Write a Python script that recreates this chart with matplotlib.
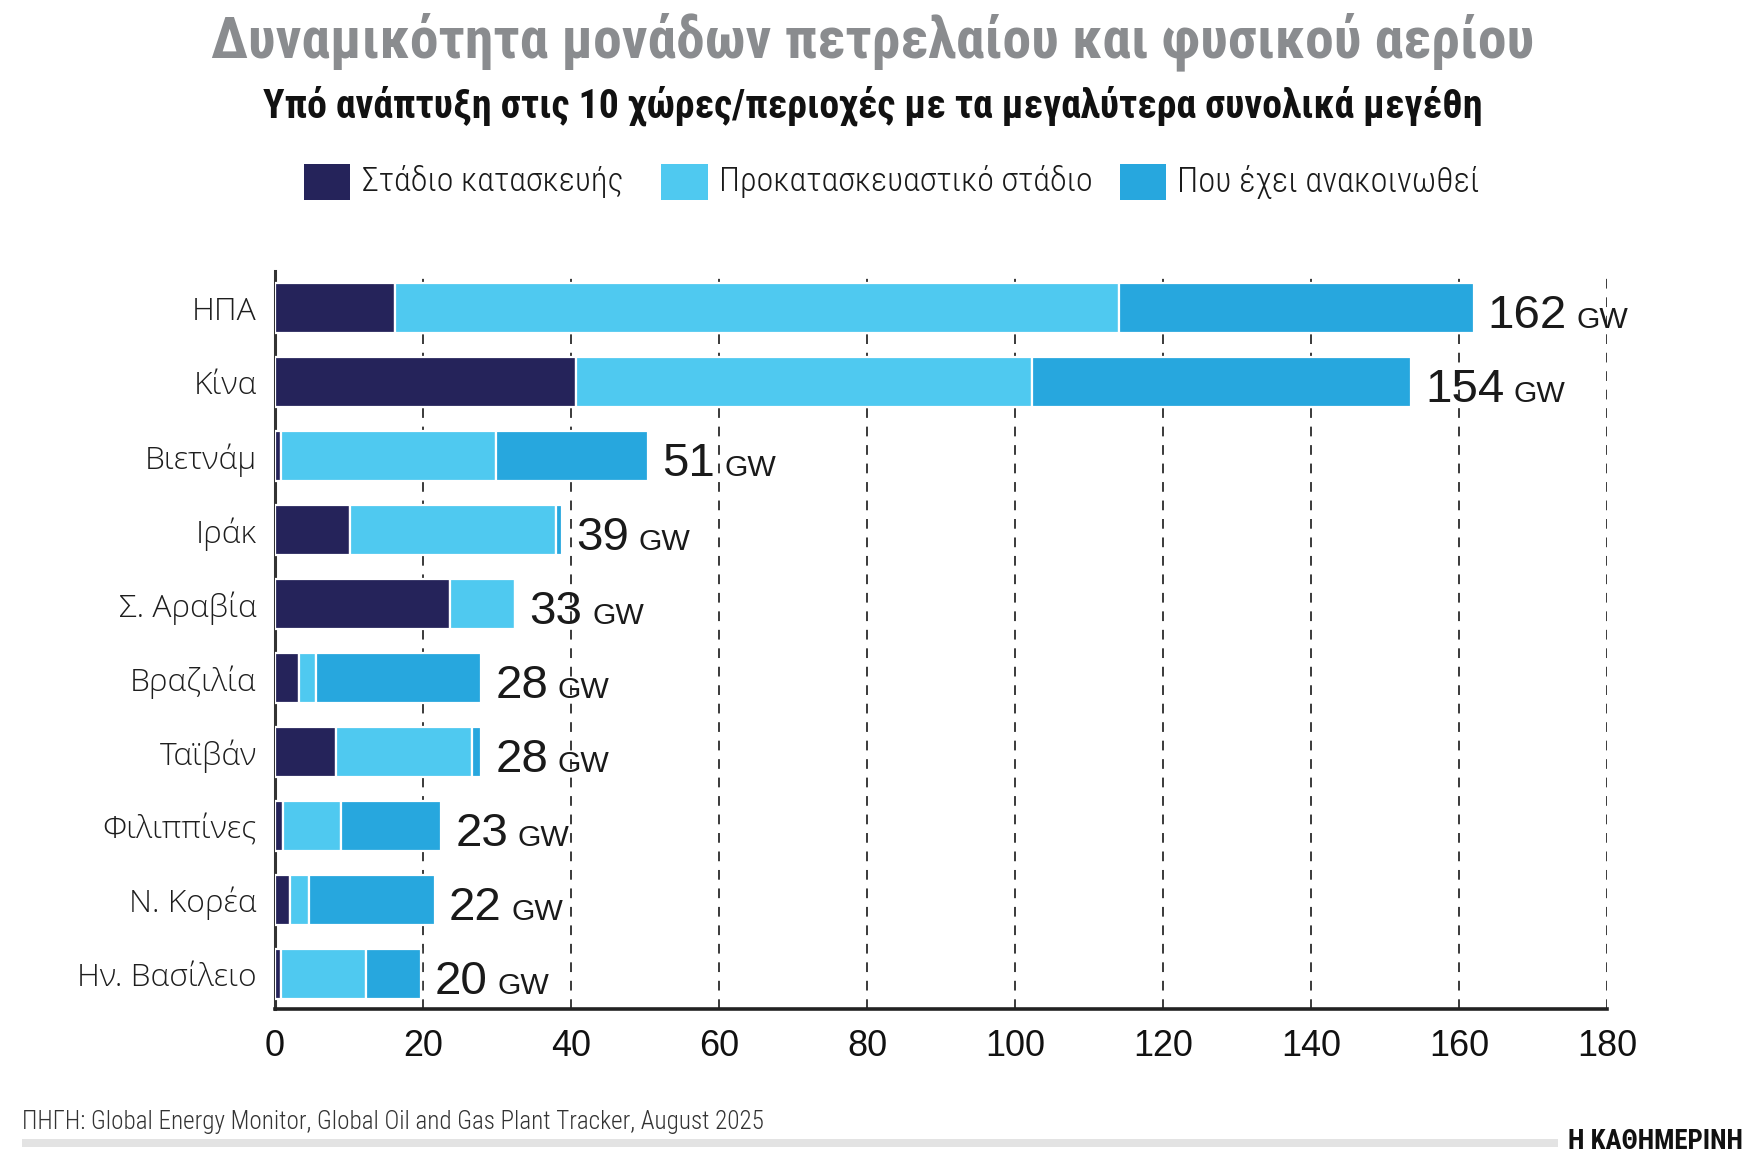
import matplotlib
matplotlib.use("Agg")
import matplotlib.pyplot as plt
from matplotlib import font_manager as fm
from matplotlib.font_manager import FontProperties
from matplotlib.patches import Rectangle
import numpy as np

# ---------------- data ----------------
categories = ['ΗΠΑ', 'Κίνα', 'Βιετνάμ', 'Ιράκ', 'Σ. Αραβία', 'Βραζιλία',
              'Ταϊβάν', 'Φιλιππίνες', 'Ν. Κορέα', 'Ην. Βασίλειο']
construction = [16.2, 40.7, 0.8, 10.2, 23.6, 3.2, 8.2, 1.1, 2.0, 0.8]
pre_construction = [97.9, 61.6, 29.1, 27.8, 8.9, 2.3, 18.5, 7.9, 2.6, 11.5]
announced = [47.9, 51.2, 20.5, 0.8, 0.0, 22.4, 1.2, 13.5, 17.0, 7.4]
total_labels = [162, 154, 51, 39, 33, 28, 28, 23, 22, 20]
series_names = ['Στάδιο κατασκευής', 'Προκατασκευαστικό στάδιο', 'Που έχει ανακοινωθεί']
x_ticks = [0, 20, 40, 60, 80, 100, 120, 140, 160, 180]

title = 'Δυναμικότητα μονάδων πετρελαίου και φυσικού αερίου'
subtitle = 'Υπό ανάπτυξη στις 10 χώρες/περιοχές με τα μεγαλύτερα συνολικά μεγέθη'
source = 'ΠΗΓΗ: Global Energy Monitor, Global Oil and Gas Plant Tracker, August 2025'
brand = 'Η ΚΑΘΗΜΕΡΙΝΗ'

colors = ['#25235A', '#4FC9F0', '#27A7DE']


# ---------------- fonts ----------------
def _w(f):
    w = f.weight
    if isinstance(w, (int, float)):
        return int(w)
    return {'normal': 400, 'regular': 400, 'bold': 700, 'light': 300,
            'medium': 500, 'semibold': 600}.get(str(w).lower(), 400)


def find_condensed(wmin, wmax, prefer):
    cands = []
    for f in fm.fontManager.ttflist:
        cond = ('condensed' in str(f.stretch)) or ('Narrow' in f.name) or ('Condensed' in f.name)
        if not cond or f.style != 'normal':
            continue
        w = _w(f)
        if wmin <= w <= wmax:
            cands.append(f)
    if not cands:
        return None
    def key(f):
        for i, p in enumerate(prefer):
            if p in f.name:
                return (i, abs(_w(f) - (wmin + wmax) / 2))
        return (len(prefer), abs(_w(f) - (wmin + wmax) / 2))
    cands.sort(key=key)
    return FontProperties(fname=cands[0].fname)


def find_family(families, target_w):
    for fam in families:
        cands = [f for f in fm.fontManager.ttflist
                 if f.name == fam and f.style == 'normal' and str(f.stretch) == 'normal']
        if cands:
            cands.sort(key=lambda f: abs(_w(f) - target_w))
            return FontProperties(fname=cands[0].fname)
    return FontProperties(family='DejaVu Sans')


prefer = ['Roboto Condensed', 'Open Sans Condensed', 'DejaVu Sans', 'Liberation Sans Narrow', 'Noto Sans']
fp_bold = find_condensed(600, 900, prefer) or FontProperties(family='DejaVu Sans', weight='bold')
fp_reg = find_condensed(300, 450, prefer) or FontProperties(family='DejaVu Sans')
fp_light = find_condensed(200, 400, prefer) or fp_reg
fp_num = find_family(['Liberation Sans', 'Arial', 'Inter'], 400)
fp_cat = find_family(['Open Sans', 'Lato', 'Noto Sans', 'DejaVu Sans'], 300)

W, H = 1745, 1166
fig = plt.figure(figsize=(W / 100, H / 100), dpi=100)
fig.patch.set_facecolor('white')
renderer = fig.canvas.get_renderer()


def fit(t, width_px, size0=20):
    t.set_fontsize(size0)
    w = t.get_window_extent(renderer).width
    t.set_fontsize(size0 * width_px / w)
    return t


def fitted_size(text, fp, width_px):
    p = fig.text(0, 0, text, fontproperties=fp)
    fit(p, width_px)
    s = p.get_fontsize()
    p.remove()
    return s


# ---------------- axes ----------------
ax = fig.add_axes([0.1575, 0.1345, 0.921 - 0.1575, 0.768 - 0.1345])
y = np.arange(len(categories))
left = np.zeros(len(categories))
for vals, c, name in zip([construction, pre_construction, announced], colors, series_names):
    ax.barh(y, vals, left=left, height=0.68, color=c, edgecolor='white',
            linewidth=1.6, label=name, zorder=3)
    left = left + np.array(vals)

ax.set_xlim(0, 180)
ax.set_ylim(9.48, -0.51)
ax.set_xticks(x_ticks)
ax.set_yticks(y)
ax.set_yticklabels(categories)
ax.xaxis.grid(True, linestyle=(0, (5, 4.5)), color='#3a3a3a', linewidth=1.4, zorder=0)
ax.set_axisbelow(True)
for s in ['top', 'right']:
    ax.spines[s].set_visible(False)
ax.spines['left'].set_color('#333333')
ax.spines['left'].set_linewidth(2.2)
ax.spines['bottom'].set_color('#222222')
ax.spines['bottom'].set_linewidth(2.6)
ax.tick_params(axis='both', length=0)
ax.tick_params(axis='y', pad=13)
ax.tick_params(axis='x', pad=14)

cat_size = fitted_size('Ην. Βασίλειο', fp_cat, 179)
for lab in ax.get_yticklabels():
    lab.set_fontproperties(fp_cat)
    lab.set_fontsize(cat_size)
    lab.set_color('#1e1e1e')
xt_size = fitted_size('20', fp_num, 40)
for lab in ax.get_xticklabels():
    lab.set_fontproperties(fp_num)
    lab.set_fontsize(xt_size)
    lab.set_color('#111111')

# value labels
num_size = fitted_size('162', fp_num, 79)
gw_size = fitted_size('GW', fp_num, 52)

totals = np.array(construction) + np.array(pre_construction) + np.array(announced)
for i, (tot, lab) in enumerate(zip(totals, total_labels)):
    t = ax.annotate(str(lab), xy=(tot, i + 0.27), xytext=(10, 0), textcoords='offset points',
                    fontproperties=fp_num, fontsize=num_size, color='#1a1a1a',
                    ha='left', va='baseline', zorder=5)
    ax.annotate('GW', xy=(1, i + 0.27), xycoords=(t, 'data'), xytext=(7, 0),
                textcoords='offset points', fontproperties=fp_num, fontsize=gw_size,
                color='#1a1a1a', ha='left', va='baseline', zorder=5)

# ---------------- titles ----------------
t = fig.text(0.5, 0.964, title, fontproperties=fp_bold, color='#8a8c8f', ha='center', va='center')
fit(t, 1321)
t = fig.text(0.5, 0.909, subtitle, fontproperties=fp_bold, color='#111111', ha='center', va='center')
fit(t, 1221)

# ---------------- legend ----------------
leg_y = 0.844
sq_x = [0.174, 0.379, 0.6416]
tx_x = [0.2073, 0.412, 0.6747]
tx_w = [262, 375, 303]
sq_w, sq_h = 0.0268, 0.0305
for c, name, sx, tx, tw in zip(colors, series_names, sq_x, tx_x, tx_w):
    fig.add_artist(Rectangle((sx, leg_y - sq_h / 2), sq_w, sq_h, transform=fig.transFigure,
                             facecolor=c, edgecolor='none'))
    t = fig.text(tx, leg_y, name, fontproperties=fp_light, color='#1a1a1a', ha='left', va='center')
    fit(t, tw)

# ---------------- footer ----------------
t = fig.text(0.0128, 0.038, source, fontproperties=fp_light, color='#333333', ha='left', va='center')
fit(t, 740)
fig.add_artist(Rectangle((0.0128, 0.0165), 0.893 - 0.0128, 0.0065, transform=fig.transFigure,
                         facecolor='#e3e3e3', edgecolor='none'))
t = fig.text(0.999, 0.021, brand, fontproperties=fp_bold, color='#111111', ha='right', va='center')
fit(t, 176)

fig.savefig('out.png', dpi=100, facecolor='white')
